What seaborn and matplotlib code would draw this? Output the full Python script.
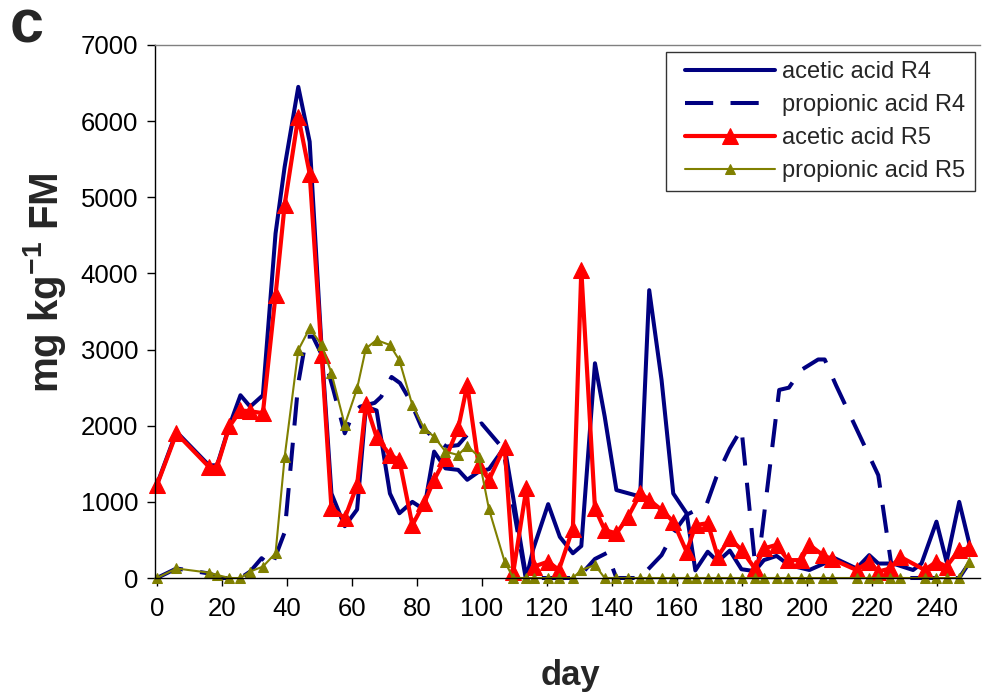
import matplotlib
matplotlib.use("Agg")
import matplotlib.pyplot as plt
from matplotlib.lines import Line2D
from matplotlib.legend_handler import HandlerLine2D
import seaborn as sns
import pandas as pd

# ---------------- data ----------------
# R5 sampling days (acetic + propionic R5 share them)
r5_days = [0, 6, 16, 18.5, 22.3, 25.7, 28.7, 32.6, 36.5, 39.3, 43.5, 47, 50.7, 53.7,
           57.8, 61.6, 64.3, 67.6, 71.7, 74.6, 78.6, 82.2, 85.3, 88.8, 92.7, 95.5,
           99, 102.2, 107, 109.7, 113.7, 116, 120.4, 123.7, 128, 130.6, 134.8, 137.8,
           141.4, 145, 148.8, 151.5, 155.3, 158.9, 163, 165.8, 169.5, 172.6, 176.3,
           179.9, 184, 186.9, 190.7, 194.2, 198.2, 200.8, 205, 207.6, 215.3, 219.2,
           222, 225.7, 228.7, 236.3, 239.9, 243, 246.9, 250]
acetic_r5 = [1220, 1900, 1460, 1460, 1990, 2200, 2190, 2165, 3715, 4900, 6060, 5310,
             2930, 915, 785, 1220, 2290, 1850, 1615, 1550, 695, 980, 1290, 1570, 1965,
             2535, 1480, 1290, 1725, 85, 1180, 150, 215, 105, 650, 4045, 915, 630, 585,
             805, 1110, 1025, 895, 740, 345, 695, 720, 280, 520, 370, 125, 390, 435,
             235, 235, 435, 300, 250, 105, 215, 85, 125, 280, 105, 215, 150, 370, 390]
propionic_r5 = [0, 125, 70, 40, 0, 0, 85, 150, 325, 1590, 2995, 3280, 3060, 2690,
                2010, 2490, 3015, 3125, 3060, 2860, 2270, 1965, 1855, 1660, 1615, 1735,
                1595, 900, 215, 0, 0, 0, 0, 0, 0, 105, 170, 0, 0, 0, 0, 0, 0, 0, 0, 0,
                0, 0, 0, 0, 0, 0, 0, 0, 0, 0, 0, 0, 0, 0, 0, 0, 0, 0, 0, 0, 0, 215]

# R4 acetic acid
ac_r4_days = [0, 6, 16, 18.5, 22.3, 25.7, 28.7, 32.6, 36.5, 39.3, 43.5, 47, 50.7,
              53.7, 57.8, 61.6, 64.3, 67.6, 71.7, 74.6, 78.6, 82.2, 85.3, 88.8, 92.7,
              95.5, 99, 102.2, 107, 109.7, 113.7, 115.8, 120.4, 124, 128, 130.6, 134.8,
              137.8, 141.4, 148.7, 151.5, 155.3, 158.9, 163, 165.7, 169.5, 172.6,
              176.3, 179.9, 184, 186.8, 190.7, 194.5, 200.8, 205.3, 207.6, 215.3,
              219.2, 222, 226.5, 232.7, 235.3, 239.9, 243, 246.9, 250]
acetic_r4 = [1230, 1920, 1480, 1480, 2000, 2400, 2250, 2400, 4525, 5400, 6450, 5730,
             3000, 1110, 680, 900, 2250, 2200, 1110, 850, 1000, 900, 1660, 1440, 1420,
             1290, 1395, 1430, 1720, 1040, 0, 380, 970, 540, 325, 420, 2820, 2120, 1155,
             1070, 3780, 2600, 1110, 850, 100, 345, 215, 360, 115, 90, 235, 290, 170,
             105, 190, 280, 125, 300, 190, 190, 105, 190, 740, 215, 1000, 455]

# R4 propionic acid
pr_r4_days = [0, 6, 16, 20, 22.3, 25.7, 28.7, 32.2, 35.3, 39.3, 43.5, 46, 48, 52,
              54.3, 57.8, 60.4, 62.5, 67, 69, 72.2, 74.8, 77.8, 81.4, 85, 89.1, 92.7,
              96.3, 99.9, 102.5, 106.5, 113.5, 128, 130.6, 134.8, 138.5, 141.4, 148.6,
              155.3, 158.9, 163, 169.1, 172.2, 176.3, 179.9, 184.5, 191.5, 194.5, 198.2,
              203.5, 205.5, 209, 222, 226.6, 236, 243, 246.9, 250]
propionic_r4 = [0, 125, 60, 0, 0, 0, 85, 260, 150, 600, 2560, 3170, 3170, 2820, 2470,
                1900, 2160, 2250, 2300, 2380, 2640, 2560, 2340, 1985, 1850, 1725, 1745,
                1920, 2030, 1900, 1700, 0, 0, 50, 250, 330, 0, 0, 300, 590, 830, 960,
                1330, 1700, 1960, 0, 2470, 2500, 2730, 2870, 2870, 2530, 1350, 0, 0, 0,
                0, 200]

labels = ["acetic acid R4", "propionic acid R4", "acetic acid R5", "propionic acid R5"]
x_ticks = list(range(0, 241, 20))
y_ticks = list(range(0, 7001, 1000))

# ---------------- style ----------------
sns.set_theme(style="ticks")
plt.rcParams["font.family"] = ["Liberation Sans", "DejaVu Sans"]
plt.rcParams["mathtext.fontset"] = "custom"
plt.rcParams["mathtext.rm"] = "Liberation Sans"
plt.rcParams["mathtext.bf"] = "Liberation Sans:bold"

fig = plt.figure(figsize=(9.82, 6.95), dpi=100)
ax = fig.add_axes([155 / 982, 1 - 578 / 695, 825 / 982, 533 / 695])

navy = "#000080"
red = "#FF0000"
olive = "#808000"

df_ac4 = pd.DataFrame({"day": ac_r4_days, "v": acetic_r4})
df_pr4 = pd.DataFrame({"day": pr_r4_days, "v": propionic_r4})
df_ac5 = pd.DataFrame({"day": r5_days, "v": acetic_r5})
df_pr5 = pd.DataFrame({"day": r5_days, "v": propionic_r5})

sns.lineplot(data=df_ac4, x="day", y="v", ax=ax, color=navy, linewidth=2.9,
             label=labels[0], clip_on=False)
sns.lineplot(data=df_pr4, x="day", y="v", ax=ax, color=navy, linewidth=2.9,
             linestyle=(0, (7, 4.3)), label=labels[1], clip_on=False)
sns.lineplot(data=df_ac5, x="day", y="v", ax=ax, color=red, linewidth=3.0,
             marker="^", markersize=11, markeredgecolor=red, markerfacecolor=red,
             label=labels[2], clip_on=False)
sns.lineplot(data=df_pr5, x="day", y="v", ax=ax, color=olive, linewidth=1.5,
             marker="^", markersize=7.5, markeredgecolor=olive, markerfacecolor=olive,
             label=labels[3], clip_on=False)

ax.set_xlim(-0.6, 253.3)
ax.set_ylim(0, 7000)
ax.set_xticks(x_ticks)
ax.set_yticks(y_ticks)
ax.tick_params(axis="both", direction="out", length=6, width=1, labelsize=18.5,
               colors="black")
ax.tick_params(axis="x", pad=8)
ax.tick_params(axis="y", pad=6)
ax.set_xlabel("")
ax.set_ylabel("")
for s in ["left", "bottom", "top"]:
    ax.spines[s].set_color("#000000")
    ax.spines[s].set_linewidth(1.0)
ax.spines["top"].set_color("#808080")
ax.spines["right"].set_visible(False)

leg = ax.legend(loc="upper right", bbox_to_anchor=(975 / 982, 1 - 52 / 695),
                bbox_transform=fig.transFigure, fontsize=17, frameon=True,
                fancybox=False, edgecolor="black", handlelength=4.22,
                handletextpad=0.3, labelspacing=0.46, borderpad=0.4,
                borderaxespad=0, handler_map={Line2D: HandlerLine2D(xpad=0.41)})
leg.get_frame().set_linewidth(1.0)

fig.text(570 / 982, 1 - 675 / 695, "day", ha="center", va="center",
         fontsize=25, fontweight="bold")
fig.text(45 / 982, 1 - 283 / 695, r"mg kg$^{\mathbf{-1}}$ FM", ha="center",
         va="center", rotation=90, fontsize=29, fontweight="bold")
fig.text(27 / 982, 1 - 27 / 695, "c", ha="center", va="center",
         fontsize=44, fontweight="bold")

fig.savefig("out.png", dpi=100, facecolor="white")
